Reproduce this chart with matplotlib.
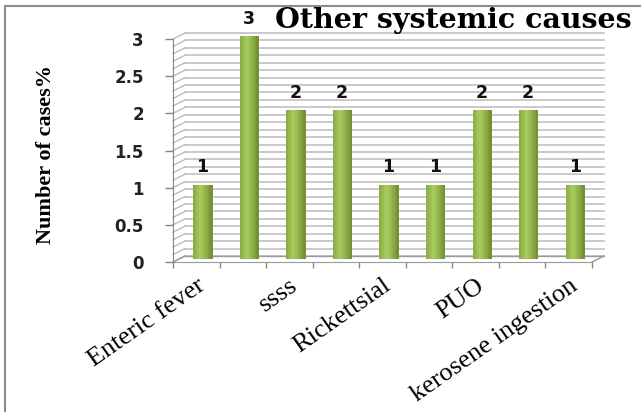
import numpy as np
import matplotlib
matplotlib.use('Agg')
import matplotlib.pyplot as plt
import matplotlib.transforms as mtransforms
from matplotlib.patches import Rectangle

# dados: casos por causa (so metade dos nomes aparece no eixo)
categorias = ['Enteric fever', '', 'ssss', '', 'Rickettsial', '', 'PUO', '', 'kerosene ingestion']
valores = [1, 3, 2, 2, 1, 1, 2, 2, 1]
yticks = [0, 0.5, 1, 1.5, 2, 2.5, 3]
titulo = 'Other systemic causes'

fig = plt.figure(figsize=(6.41, 4.12), dpi=100)
W, H = 641, 412

# moldura cinza em volta do grafico
fig.patches.append(Rectangle((5 / W, -0.05), 1.2, 1 - 6 / H + 0.05, transform=fig.transFigure,
                             fill=False, edgecolor='#8c8c8c', linewidth=1.5))

ax = fig.add_axes([173 / W, 1 - 262 / H, 419 / W, 223 / H])
ax.set_xlim(0, len(valores))
ax.set_ylim(0, 3)
ax.patch.set_visible(False)

# deslocamentos para dar o efeito 3D (parede do fundo e meio da profundidade)
fundo = mtransforms.offset_copy(ax.transData, fig=fig, x=12, y=6, units='dots')
meio = mtransforms.offset_copy(ax.transData, fig=fig, x=6, y=3, units='dots')

n = len(valores)
grade = np.arange(0, 3.01, 0.1)
cor_grade = '#bcbcbc'
for g in grade:
    # linha na parede do fundo
    ax.plot([0, n], [g, g], color=cor_grade, lw=1.1, transform=fundo, clip_on=False, zorder=1)
    # linha na parede lateral
    x0, y0 = ax.transData.transform((0, g))
    ax.plot([x0, x0 + 12], [y0, y0 + 6], color=cor_grade, lw=1.0,
            transform=None, clip_on=False, zorder=1)

# chao
for xv in [0, n]:
    x0, y0 = ax.transData.transform((xv, 0))
    ax.plot([x0, x0 + 12], [y0, y0 + 6], color='#9a9a9a', lw=1.0,
            transform=None, clip_on=False, zorder=1)
ax.plot([0, n], [0, 0], color='#9a9a9a', lw=1.0, transform=fundo, clip_on=False, zorder=1)

# barras com gradiente (aspecto de cilindro)
centros = np.arange(n) + 0.5
largura = 0.39
fatias = 12
escuro = np.array([0x6a, 0x87, 0x2c]) / 255
claro = np.array([0xa8, 0xcc, 0x5e]) / 255
for k in range(fatias):
    t = (k + 0.5) / fatias
    f = np.clip(1 - abs(t - 0.4) / 0.6, 0, 1) ** 0.7
    cor = escuro + (claro - escuro) * f
    pos = centros - largura / 2 + k * largura / fatias
    # fatias um pouco mais largas para nao deixar frestas brancas
    ax.bar(pos, valores, width=largura / fatias * 1.8, align='edge', color=cor,
           linewidth=0, antialiased=False, transform=meio, zorder=3 + k * 0.01, clip_on=False)

# rotulos de valor
for c, v in zip(centros, valores):
    ax.annotate(str(v), (c, v), xycoords=meio, xytext=(0, 6), textcoords='offset points',
                ha='center', va='bottom', fontsize=12.5, fontweight='bold', color='#111111',
                annotation_clip=False, zorder=5)

# eixos
for lado in ['top', 'right']:
    ax.spines[lado].set_visible(False)
ax.spines['left'].set_color('#868686')
ax.spines['bottom'].set_color('#9a9a9a')
ax.spines['left'].set_zorder(2)

ax.set_yticks(yticks)
ax.set_yticklabels([('%g' % v) for v in yticks], fontsize=12, fontweight='bold', color='#222222')
ax.tick_params(axis='y', length=6, width=1, color='#868686', pad=15)

ax.set_xticks(np.arange(n + 1), minor=True)
ax.set_xticks(centros)
ax.set_xticklabels(categorias, rotation=35, ha='right', va='top', rotation_mode='anchor',
                   fontsize=19, family='Liberation Serif')
ax.tick_params(axis='x', which='major', length=0, pad=9)
ax.tick_params(axis='x', which='minor', length=4, width=1, color='#868686')

fig.text(46 / W, 1 - 154 / H, 'Number of cases%', rotation=90, ha='center', va='center',
         fontsize=16, fontweight='bold', family='Liberation Serif')
fig.text(453 / W, 1 - 21 / H, titulo, ha='center', va='center',
         fontsize=20.5, fontweight='bold', family='DejaVu Serif')

fig.savefig('out.png', dpi=100)
